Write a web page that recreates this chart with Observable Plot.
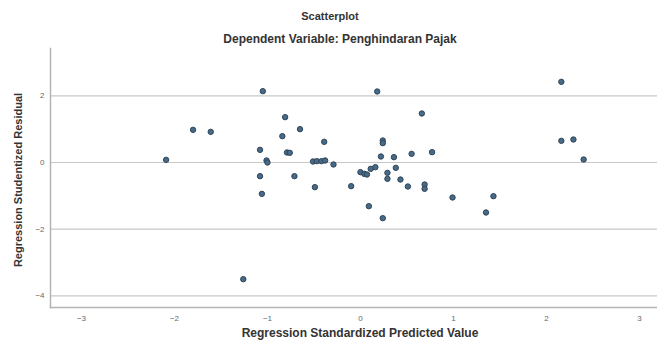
<!DOCTYPE html>
<html>
<head>
<meta charset="utf-8">
<script src="https://cdn.jsdelivr.net/npm/d3@7"></script>
<script src="https://cdn.jsdelivr.net/npm/@observablehq/plot@0.6"></script>
<style>
  html, body { margin: 0; padding: 0; background: #fff; }
  svg { display: block; }
</style>
</head>
<body>
<div id="chart"></div>
<script>
const title = "Scatterplot";
const subtitle = "Dependent Variable: Penghindaran Pajak";
const xLabel = "Regression Standardized Predicted Value";
const yLabel = "Regression Studentized Residual";

const xTicks = [-3, -2, -1, 0, 1, 2, 3];
const yTicks = [-4, -2, 0, 2];

const predicted = [
  -2.09, -1.80, -1.61, -1.05, -1.08, -1.01, -1.00, -1.08, -1.06, -1.26,
  -0.81, -0.84, -0.79, -0.76, -0.65, -0.71, -0.51, -0.47, -0.42, -0.49,
  -0.39, -0.38, -0.29, -0.10, 0.00, 0.04, 0.07, 0.11, 0.16, 0.09,
  0.18, 0.22, 0.24, 0.24, 0.24, 0.29, 0.29, 0.36, 0.38, 0.43,
  0.51, 0.55, 0.66, 0.69, 0.69, 0.77, 0.99, 1.35, 1.43, 2.16,
  2.16, 2.29, 2.40
];
const residual = [
  0.08, 0.98, 0.92, 2.14, 0.38, 0.06, 0.00, -0.41, -0.94, -3.50,
  1.36, 0.79, 0.30, 0.29, 1.00, -0.41, 0.03, 0.04, 0.04, -0.74,
  0.62, 0.06, -0.06, -0.71, -0.29, -0.34, -0.36, -0.19, -0.14, -1.31,
  2.13, 0.18, 0.66, 0.58, -1.67, -0.31, -0.49, 0.16, -0.16, -0.51,
  -0.72, 0.26, 1.47, -0.66, -0.79, 0.31, -1.05, -1.50, -1.01, 2.42,
  0.65, 0.69, 0.09
];

const data = predicted.map((x, i) => ({x, y: residual[i]}));

const font = "'Liberation Sans', Arial, sans-serif";

const chart = Plot.plot({
  width: 657,
  height: 340,
  marginLeft: 50,
  marginRight: 0,
  marginTop: 48,
  marginBottom: 33,
  style: {fontFamily: font, background: "#fff", overflow: "visible"},
  x: {domain: [-3.333, 3.194], ticks: xTicks},
  y: {domain: [-4.35, 3.42], ticks: yTicks},
  marks: [
    Plot.gridY(yTicks, {stroke: "#c8c8c8", strokeOpacity: 1, strokeWidth: 1.2}),
    Plot.axisX(xTicks, {tickSize: 0, tickPadding: 8, fontSize: 8, fill: "#666", label: null}),
    Plot.axisY(yTicks, {tickSize: 0, tickPadding: 6, fontSize: 8, fill: "#666", label: null}),
    Plot.frame({anchor: "left", stroke: "#b4b4b4", strokeWidth: 1.5}),
    Plot.frame({anchor: "bottom", stroke: "#b4b4b4", strokeWidth: 1.5}),
    Plot.dot(data, {x: "x", y: "y", r: 2.7, fill: "#476a88", stroke: "#2f4456", strokeWidth: 1}),
    Plot.text([title], {frameAnchor: "top", dx: -24, dy: -36, fontSize: 11, fontWeight: "bold", fill: "#333"}),
    Plot.text([subtitle], {frameAnchor: "top", dx: -14, dy: -14, fontSize: 12, fontWeight: "bold", fill: "#333"}),
    Plot.text([xLabel], {frameAnchor: "bottom", dx: 6, dy: 29, fontSize: 12, fontWeight: "bold", fill: "#333"}),
    Plot.text([yLabel], {frameAnchor: "left", textAnchor: "middle", rotate: -90, dx: -32, dy: 2, fontSize: 11, fontWeight: "bold", fill: "#333"})
  ]
});

document.getElementById("chart").appendChild(chart);
</script>
</body>
</html>
